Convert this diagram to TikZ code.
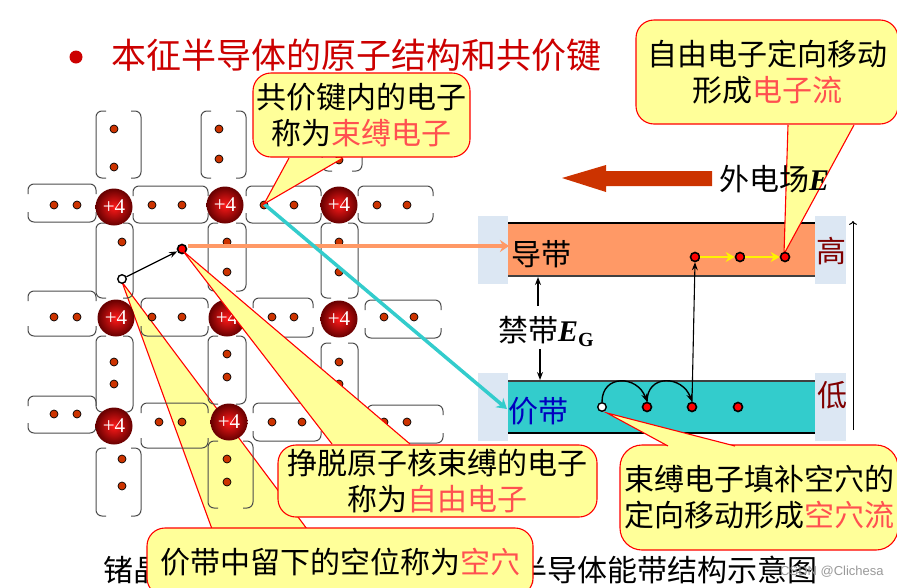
\documentclass[tikz,border=0pt]{standalone}
\usepackage{fontspec}
\setmainfont{Noto Sans CJK SC}
\newfontfamily\timesfont{Liberation Serif}
\newfontfamily\arialfont{Liberation Sans}
\usetikzlibrary{arrows.meta}
\definecolor{bubbleyellow}{HTML}{FFFF99}
\definecolor{hotred}{HTML}{FF5050}
\definecolor{titlered}{HTML}{CC0000}
\definecolor{dotbrown}{HTML}{CC3300}
\definecolor{bandorange}{HTML}{FF9966}
\definecolor{bandteal}{HTML}{33CCCC}
\definecolor{sideblue}{HTML}{DCE7F3}
\definecolor{darkband}{HTML}{800000}
\tikzset{
  txt/.style={font=\fontsize{30}{36}\selectfont,align=center,inner sep=0pt},
  bubble/.style={txt,draw=red,fill=bubbleyellow,line width=1.1pt,rounded corners=18pt},
  bubbleside/.style={draw=red,line width=1.1pt},
  atomball/.style={circle,minimum size=37pt,inner sep=0pt,inner color=red!90!white,outer color=red!40!black,text=white,font=\timesfont\fontsize{21}{21}\selectfont},
  eldot/.style={circle,draw=black,line width=0.7pt,fill=dotbrown,minimum size=8pt,inner sep=0pt},
  reddot/.style={circle,draw=black,line width=1.6pt,fill=red,minimum size=9pt,inner sep=0pt},
  holedot/.style={circle,draw=black,line width=1.4pt,fill=white,minimum size=8.5pt,inner sep=0pt},
  bondline/.style={draw=black!70,line width=1pt,rounded corners=6pt},
  sideblock/.style={fill=sideblue}
}
% bond boxes: horizontal ones have no sides, upright ones have no top and bottom
\newcommand{\hbond}[4]{\draw[bondline] (#1,#3+10) -- (#1,#3) -- (#2,#3) -- (#2,#3+10);
  \draw[bondline] (#1,#4-10) -- (#1,#4) -- (#2,#4) -- (#2,#4-10);}
\newcommand{\vbond}[4]{\draw[bondline] (#1+10,#3) -- (#1,#3) -- (#1,#4) -- (#1+10,#4);
  \draw[bondline] (#2-10,#3) -- (#2,#3) -- (#2,#4) -- (#2-10,#4);}
\newcommand{\bubbletail}[3]{\fill[bubbleyellow] (#1) -- (#2) -- (#3) -- cycle;
  \draw[bubbleside] (#1) -- (#2) -- (#3);}
\begin{document}
\begin{tikzpicture}[x=1pt,y=-1pt]
  \useasboundingbox (0,0) rectangle (897,587);

  % caption, mostly under the bubbles
  \node[txt,anchor=west] (capleft) at (103,570) {锗晶};
  \node[txt,anchor=west] (capright) at (517,570) {半导体能带结构示意图};
  \node[font=\arialfont\fontsize{13}{13}\selectfont,text=black!40,anchor=west,inner sep=0pt] (mark) at (780,572) {CSDN @Clichesa};

  % title
  \node[circle,fill=titlered,minimum size=13pt,inner sep=0pt] (bullet) at (76,57) {};
  \node[txt,text=titlered,anchor=west,font=\fontsize{35}{35}\selectfont] (title) at (111,55) {本征半导体的原子结构和共价键};

  % tail of the hole bubble lies under the lattice
  \coordinate (holetip) at (122,282);
  \coordinate (holeL) at (212,529);
  \coordinate (holeR) at (307,529);
  \bubbletail{holeL}{holetip}{holeR}

  % lattice
  \foreach \ax/\bx/\ay/\by in {28/96/184/222,133/208/186/223,246/321/186/223,358/433/186/223,
      28/96/291/336,141/208/298/336,253/313/298/337,365/441/300/338,
      28/96/396/433,141/208/403/448,253/321/403/441,367/443/405/443}
    {\hbond{\ax}{\bx}{\ay}{\by}}
  \foreach \ax/\bx/\ay/\by in {96/141/111/178,201/246/111/178,322/362/111/171,
      96/133/223/298,208/246/223/291,321/358/223/298,
      96/133/336/412,208/246/336/404,321/358/343/407,
      96/141/448/516,208/253/441/508}
    {\vbond{\ax}{\bx}{\ay}{\by}}
  \foreach \px/\py [count=\k] in {54/205,77/205,152/205,182/205,264/205,294/205,377/205,407/205,
      54/317,77/317,152/317,182/317,272/317,294/317,384/317,414/317,
      54/414,77/414,159/422,182/422,272/422,302/422,384/422,407/422,
      114/129,114/167,219/129,219/159,339/160,
      122/242,227/242,227/272,339/242,339/272,
      114/362,114/384,227/354,227/377,339/362,339/384,
      122/459,122/486,227/459,227/482}
    {\node[eldot] (d\k) at (\px,\py) {};}
  \foreach \px/\py [count=\k] in {114/207,225/205,339/205,116/318,227/318,339/319,114/426,229/422}
    {\node[atomball] (atom\k) at (\px,\py) {+4};}

  % energy bands
  \fill[sideblock] (478,216) rectangle (508,284);
  \fill[sideblock] (815,216) rectangle (846,284);
  \fill[sideblock] (478,373) rectangle (508,441);
  \fill[sideblock] (815,373) rectangle (846,441);
  \fill[bandorange] (508,223) rectangle (815,276);
  \fill[bandteal] (508,381) rectangle (815,433);
  \draw[line width=1.1pt] (508,223) -- (815,223);
  \draw[line width=1.1pt,black!75] (508,276) -- (815,276);
  \draw[line width=1.1pt,black!75] (508,381) -- (815,381);
  \draw[line width=1.1pt] (508,433) -- (815,433);
  \node[txt,anchor=west] (cond) at (511,254) {导带};
  \node[txt,anchor=west,text=blue!75!black] (vale) at (508,411) {价带};
  \node[txt,text=darkband] (high) at (831,251) {高};
  \node[txt,text=darkband] (low) at (832,395) {低};
  \node[txt,anchor=west] (gap) at (498,331) {禁带{\timesfont\bfseries\itshape E}\raisebox{-5pt}{\timesfont\bfseries\fontsize{20}{20}\selectfont G}};
  \draw[-{Stealth[length=8pt]},line width=1.5pt] (538,306) -- (538,277);
  \draw[-{Stealth[length=8pt]},line width=1.5pt] (540,349) -- (540,380);
  \draw[->,line width=1pt] (853,430) -- (853,221);

  % field arrow
  \fill[dotbrown] (562,178) -- (606,165) -- (606,171) -- (712,171) -- (712,186) -- (606,186) -- (606,192) -- cycle;

  % electrons and hole
  \node[holedot] (hole) at (122,279) {};
  \node[reddot] (free) at (182,249) {};
  \draw[-{Stealth[length=8pt]},line width=1.3pt] (hole) -- (free);
  \coordinate (orangeend) at (509,246);
  \coordinate (orangestart) at (188,246);
  \draw[-{Stealth[length=9pt,width=12pt]},bandorange,line width=3.5pt] (orangestart) -- (orangeend);
  \coordinate (bound) at (264,204);
  \coordinate (tealend) at (507,409);
  \draw[-{Stealth[length=10pt,width=12pt]},bandteal,line width=3.5pt] (bound) -- (tealend);

  % bubbles
  \coordinate (chargeL) at (332,444);
  \coordinate (chargeR) at (410,444);
  \coordinate (freetip) at (183,251);
  \bubbletail{chargeL}{freetip}{chargeR}
  \node[bubble,minimum width=217pt,minimum height=84pt] (bubbound) at (361.5,115) {共价键内的电子\\称为\textcolor{hotred}{束缚电子}};
  \coordinate (boundL) at (289,158);
  \coordinate (boundR) at (343,158);
  \bubbletail{boundL}{bound}{boundR}

  \node[bubble,minimum width=319pt,minimum height=72pt] (bubfree) at (437.5,481) {挣脱原子核束缚的电子\\称为\textcolor{hotred}{自由电子}};
  \node[bubble,minimum width=386pt,minimum height=68pt] (bubhole) at (340,562) {价带中留下的空位称为\textcolor{hotred}{空穴}};

  \node[reddot] (c1) at (695,257) {};
  \node[reddot] (c2) at (740,257) {};
  \node[bubble,minimum width=262pt,minimum height=104pt] (bubcurrent) at (767,72) {自由电子定向移动\\形成\textcolor{hotred}{电子流}};
  \coordinate (currentL) at (788,125);
  \coordinate (currentR) at (854,125);
  \coordinate (currenttip) at (784,254);
  \bubbletail{currentL}{currenttip}{currentR}
  \node[reddot] (c3) at (785,257) {};
  \draw[-{Stealth[length=9pt,width=10pt]},yellow,line width=2.6pt] (c1) -- (c2);
  \draw[-{Stealth[length=9pt,width=10pt]},yellow,line width=2.6pt] (c2) -- (c3);
  \node[txt,anchor=west] (field) at (719,179) {外电场{\timesfont\bfseries\itshape E}};

  \node[holedot] (v0) at (602,407) {};
  \node[reddot] (v1) at (647,407) {};
  \node[reddot] (v2) at (692,407) {};
  \node[reddot] (v3) at (738,407) {};
  \draw[-{Stealth[length=8pt]},line width=1.4pt] (v0.north) to[out=90,in=110,looseness=1.6] (v1.north);
  \draw[-{Stealth[length=8pt]},line width=1.4pt] (v1.north) to[out=90,in=110,looseness=1.6] (v2.north);
  \draw[-{Stealth[length=8pt]},line width=1.1pt] (v2.north) -- (c1.south);

  \coordinate (fillL) at (668,446);
  \coordinate (fillR) at (735,446);
  \coordinate (filltip) at (607,413);
  \node[bubble,rounded corners=22pt,minimum width=278pt,minimum height=105pt] (bubfill) at (759,497.5) {束缚电子填补空穴的\\定向移动形成\textcolor{hotred}{空穴流}};
  \bubbletail{fillL}{filltip}{fillR}
\end{tikzpicture}
\end{document}
